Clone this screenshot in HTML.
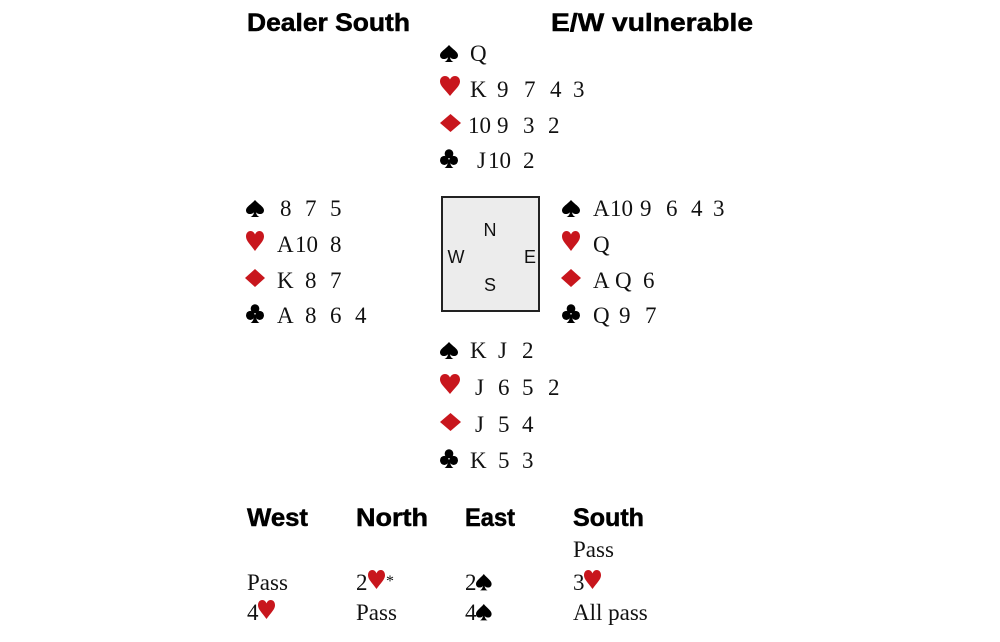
<!DOCTYPE html>
<html><head><meta charset="utf-8"><style>
html,body{margin:0;padding:0;background:#fff;}
svg{display:block}
.h{font-family:"Liberation Sans",sans-serif;font-weight:bold;font-size:25px;fill:#000;stroke:#000;stroke-width:0.5}
.c{font-family:"Liberation Serif",serif;font-size:23px;fill:#111}
.d{font-family:"Liberation Sans",sans-serif;font-size:18px;fill:#111}
.k{fill:#000}
.red{fill:#c8161d}
</style></head><body>
<svg width="1000" height="642" viewBox="0 0 1000 642">
<defs>
<path id="ht" d="M10 20 C5 13.5 0 10 0 5.5 C0 2 2.2 0 5 0 C7.5 0 9 1.5 10 3.5 C11 1.5 12.5 0 15 0 C17.8 0 20 2 20 5.5 C20 10 15 13.5 10 20Z"/>
<path id="dm" d="M10 0 L20 10 L10 20 L0 10Z"/>
<path id="sp" d="M10 0 C14 5 20 8 20 12 C20 15 18 16.5 15.5 16.5 C13.5 16.5 11.5 15.5 11 14 C11.5 17 12.5 19 15 20 L5 20 C7.5 19 8.5 17 9 14 C8.5 15.5 6.5 16.5 4.5 16.5 C2 16.5 0 15 0 12 C0 8 6 5 10 0Z"/>
<g id="cl"><circle cx="10" cy="5" r="4.8"/><circle cx="4.8" cy="12" r="4.8"/><circle cx="15.2" cy="12" r="4.8"/><path d="M9 11 C9 16 7.5 18.5 5 20 L15 20 C12.5 18.5 11 16 11 11Z"/></g>
</defs>
<text class="h" x="247" y="31" textLength="163" lengthAdjust="spacingAndGlyphs">Dealer South</text>
<text class="h" x="551" y="31" textLength="202" lengthAdjust="spacingAndGlyphs">E/W vulnerable</text>

<!-- North -->
<use href="#sp" class="k" transform="translate(440,45) scale(0.9,0.85)"/><text class="c" x="470" y="61">Q</text>
<use href="#ht" class="red" transform="translate(440,76) scale(1,1)"/><text class="c" y="97"><tspan x="470">K</tspan><tspan x="497">9</tspan><tspan x="524">7</tspan><tspan x="550">4</tspan><tspan x="573">3</tspan></text>
<use href="#dm" class="red" transform="translate(440,114) scale(1.05,0.9)"/><text class="c" y="133"><tspan x="468">10</tspan><tspan x="497">9</tspan><tspan x="523">3</tspan><tspan x="548">2</tspan></text>
<use href="#cl" class="k" transform="translate(440,149) scale(0.9,0.95)"/><text class="c" y="168"><tspan x="477">J</tspan><tspan x="488">10</tspan><tspan x="523">2</tspan></text>

<!-- West -->
<use href="#sp" class="k" transform="translate(246,200) scale(0.9,0.85)"/><text class="c" y="216"><tspan x="280">8</tspan><tspan x="305">7</tspan><tspan x="330">5</tspan></text>
<use href="#ht" class="red" transform="translate(246,231) scale(0.9,1)"/><text class="c" y="252"><tspan x="277">A</tspan><tspan x="295">10</tspan><tspan x="330">8</tspan></text>
<use href="#dm" class="red" transform="translate(245,269) scale(1,0.9)"/><text class="c" y="288"><tspan x="277">K</tspan><tspan x="305">8</tspan><tspan x="330">7</tspan></text>
<use href="#cl" class="k" transform="translate(246,304) scale(0.9,0.95)"/><text class="c" y="323"><tspan x="277">A</tspan><tspan x="305">8</tspan><tspan x="330">6</tspan><tspan x="355">4</tspan></text>

<!-- East -->
<use href="#sp" class="k" transform="translate(562,200) scale(0.9,0.85)"/><text class="c" y="216"><tspan x="593">A</tspan><tspan x="610">10</tspan><tspan x="640">9</tspan><tspan x="666">6</tspan><tspan x="691">4</tspan><tspan x="713">3</tspan></text>
<use href="#ht" class="red" transform="translate(562,231) scale(0.9,1)"/><text class="c" x="593" y="252">Q</text>
<use href="#dm" class="red" transform="translate(561,269) scale(1,0.9)"/><text class="c" y="288"><tspan x="593">A</tspan><tspan x="615">Q</tspan><tspan x="643">6</tspan></text>
<use href="#cl" class="k" transform="translate(562,304) scale(0.9,0.95)"/><text class="c" y="323"><tspan x="593">Q</tspan><tspan x="619">9</tspan><tspan x="645">7</tspan></text>

<!-- Box -->
<rect x="442" y="197" width="97" height="114" fill="#ececec" stroke="#222" stroke-width="2"/>
<text class="d" x="490" y="236" text-anchor="middle">N</text>
<text class="d" x="456" y="263" text-anchor="middle">W</text>
<text class="d" x="530" y="263" text-anchor="middle">E</text>
<text class="d" x="490" y="291" text-anchor="middle">S</text>

<!-- South -->
<use href="#sp" class="k" transform="translate(440,342) scale(0.9,0.85)"/><text class="c" y="358"><tspan x="470">K</tspan><tspan x="498">J</tspan><tspan x="522">2</tspan></text>
<use href="#ht" class="red" transform="translate(440,374) scale(1,1)"/><text class="c" y="395"><tspan x="475">J</tspan><tspan x="498">6</tspan><tspan x="522">5</tspan><tspan x="548">2</tspan></text>
<use href="#dm" class="red" transform="translate(440,413) scale(1.05,0.9)"/><text class="c" y="432"><tspan x="475">J</tspan><tspan x="498">5</tspan><tspan x="522">4</tspan></text>
<use href="#cl" class="k" transform="translate(440,449) scale(0.9,0.95)"/><text class="c" y="468"><tspan x="470">K</tspan><tspan x="498">5</tspan><tspan x="522">3</tspan></text>

<!-- Auction -->
<text class="h" x="247" y="526" textLength="61" lengthAdjust="spacingAndGlyphs">West</text>
<text class="h" x="356" y="526" textLength="72" lengthAdjust="spacingAndGlyphs">North</text>
<text class="h" x="465" y="526" textLength="50" lengthAdjust="spacingAndGlyphs">East</text>
<text class="h" x="573" y="526" textLength="71" lengthAdjust="spacingAndGlyphs">South</text>

<text class="c" x="573" y="557">Pass</text>
<text class="c" x="247" y="590">Pass</text>
<text class="c" x="356" y="590">2</text><use href="#ht" class="red" transform="translate(368,570) scale(0.85,0.95)"/><text class="c" x="386" y="586" style="font-size:16px">*</text>
<text class="c" x="465" y="590">2</text><use href="#sp" class="k" transform="translate(476,574) scale(0.78,0.82)"/>
<text class="c" x="573" y="590">3</text><use href="#ht" class="red" transform="translate(584,570) scale(0.85,0.95)"/>
<text class="c" x="247" y="620">4</text><use href="#ht" class="red" transform="translate(258,600) scale(0.85,0.95)"/>
<text class="c" x="356" y="620">Pass</text>
<text class="c" x="465" y="620">4</text><use href="#sp" class="k" transform="translate(476,604) scale(0.78,0.82)"/>
<text class="c" x="573" y="620">All pass</text>
</svg>
</body></html>
